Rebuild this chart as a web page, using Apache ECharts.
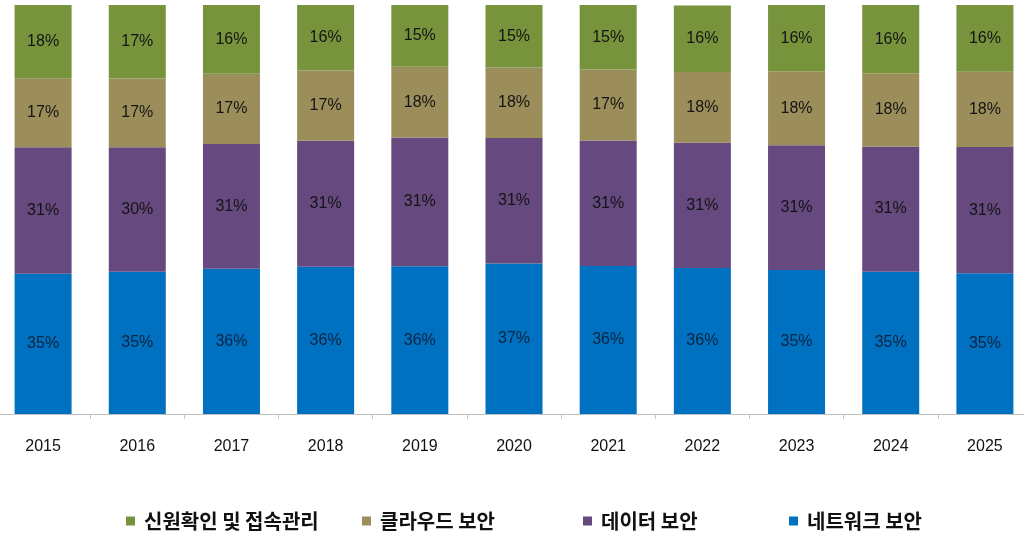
<!DOCTYPE html>
<html>
<head>
<meta charset="utf-8">
<script src="https://cdn.jsdelivr.net/npm/echarts@6/dist/echarts.min.js"></script>
<style>
html,body{margin:0;padding:0;background:#fff;overflow:hidden;width:1024px;height:548px;}
#c{width:1036px;height:548px;margin-left:-4px;}
</style>
</head>
<body>
<div id="c"></div>
<script>
const categories = ['2015','2016','2017','2018','2019','2020','2021','2022','2023','2024','2025'];
const seriesNames = ['신원확인 및 접속관리','클라우드 보안','데이터 보안','네트워크 보안'];
// segment shares (%)
const networkVals  = [34.3,34.8,35.5,36.0,36.1,36.8,36.2,35.7,35.2,34.8,34.4];
const dataVals     = [30.9,30.4,30.5,30.8,31.5,30.7,30.7,30.6,30.5,30.6,30.9];
const cloudVals    = [16.9,16.8,17.2,17.2,17.3,17.2,17.3,17.3,18.1,17.9,18.4];
const identityVals = [17.9,18.0,16.9,16.1,15.1,15.3,15.8,16.3,16.2,16.7,16.3];
// printed labels
const networkLabels  = [35,35,36,36,36,37,36,36,35,35,35];
const dataLabels     = [31,30,31,31,31,31,31,31,31,31,31];
const cloudLabels    = [17,17,17,17,18,18,17,18,18,18,18];
const identityLabels = [18,17,16,16,15,15,15,16,16,16,16];

const colors = {
  identity: '#77933C',
  cloud: '#9C8E5A',
  data: '#65497F',
  network: '#0070C0'
};

function mk(name, vals, labels, color, labelColor) {
  return {
    name: name,
    type: 'bar',
    stack: 'all',
    barWidth: 57,
    itemStyle: { color: color },
    label: {
      show: true,
      position: 'inside',
      fontFamily: 'Liberation Sans, Arial, sans-serif',
      fontSize: 16,
      color: labelColor,
      formatter: p => labels[p.dataIndex] + '%'
    },
    data: vals
  };
}

const chart = echarts.init(document.getElementById('c'));
const legendBase = {
  bottom: 12,
  itemWidth: 9,
  itemHeight: 9,
  icon: 'rect',
  itemGap: 10,
  textStyle: { fontFamily: 'Noto Sans CJK KR', fontSize: 20, fontWeight: 'bold', color: '#111', padding:[0,0,0,4] }
};
chart.setOption({
  animation: false,
  backgroundColor: '#fff',
  grid: { left: 0, right: 0, top: 5, bottom: 134 },
  xAxis: {
    type: 'category',
    data: categories,
    axisLine: { lineStyle: { color: '#bfbfbf', width: 1 } },
    axisTick: { show: true, length: 5, lineStyle: { color: '#c8c8c8' } },
    axisLabel: { margin: 25, fontFamily: 'Liberation Sans, Arial, sans-serif', fontSize: 16, color: '#111' }
  },
  yAxis: {
    type: 'value', min: 0, max: 100, show: false
  },
  legend: [
    Object.assign({}, legendBase, { left: 125, data: [seriesNames[0]] }),
    Object.assign({}, legendBase, { left: 361, data: [seriesNames[1]] }),
    Object.assign({}, legendBase, { left: 582, data: [seriesNames[2]] }),
    Object.assign({}, legendBase, { left: 788, data: [seriesNames[3]] })
  ],
  series: [
    mk(seriesNames[3], networkVals, networkLabels, colors.network, '#0d2440'),
    mk(seriesNames[2], dataVals, dataLabels, colors.data, '#141414'),
    mk(seriesNames[1], cloudVals, cloudLabels, colors.cloud, '#141414'),
    mk(seriesNames[0], identityVals, identityLabels, colors.identity, '#141414')
  ]
});
</script>
</body>
</html>
